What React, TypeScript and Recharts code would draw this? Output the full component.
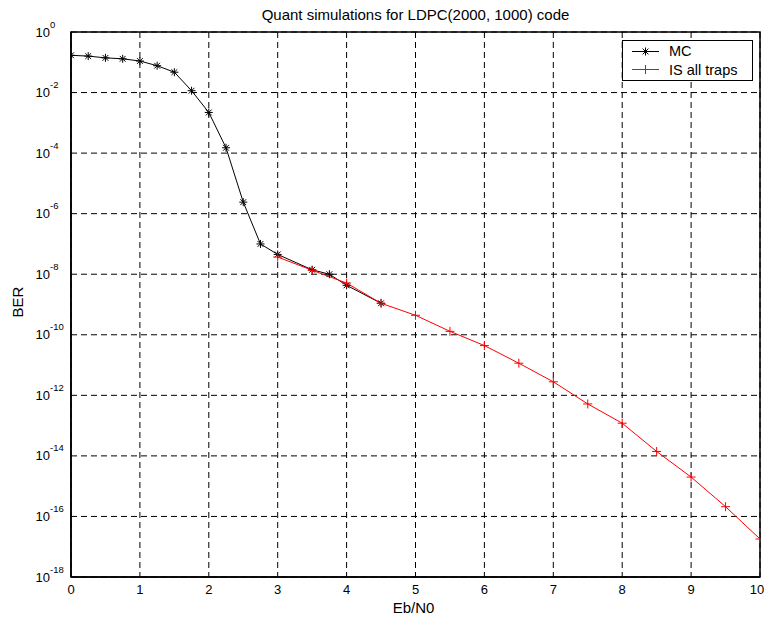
import React from 'react';
import { LineChart, Line, XAxis, YAxis, CartesianGrid, ReferenceArea } from 'recharts';

const mcEbN0 = [0, 0.25, 0.5, 0.75, 1, 1.25, 1.5, 1.75, 2, 2.25, 2.5, 2.75, 3, 3.5, 3.75, 4, 4.5];
const mcBer = [0.17, 0.16, 0.14, 0.13, 0.11, 0.077, 0.047, 0.0115, 2.2e-3, 1.5e-4, 2.4e-6, 1.0e-7, 4.5e-8, 1.4e-8, 1.0e-8, 4.3e-9, 1.1e-9];

const isEbN0 = [3, 3.5, 4, 4.5, 5, 5.5, 6, 6.5, 7, 7.5, 8, 8.5, 9, 9.5, 10];
const isBer = [3.7e-8, 1.35e-8, 5.1e-9, 1.1e-9, 4.4e-10, 1.3e-10, 4.4e-11, 1.15e-11, 2.8e-12, 5.2e-13, 1.2e-13, 1.4e-14, 2.0e-15, 2.1e-16, 1.8e-17];

const xTicks = [0, 1, 2, 3, 4, 5, 6, 7, 8, 9, 10];
const yTicks = [1, 1e-2, 1e-4, 1e-6, 1e-8, 1e-10, 1e-12, 1e-14, 1e-16, 1e-18];

const mcData = mcEbN0.map((x, i) => ({ x, ber: mcBer[i] }));
const isData = isEbN0.map((x, i) => ({ x, ber: isBer[i] }));

const FONT = 'Liberation Sans, Arial, sans-serif';
const RED = '#ff0000';

const StarDot = (props: any) => {
    const { cx, cy } = props;
    if (cx == null || cy == null) return null;
    const r = 4;
    const d = 2.9;
    return (
        <g stroke="#000" strokeWidth={1}>
            <line x1={cx - r} y1={cy} x2={cx + r} y2={cy} />
            <line x1={cx} y1={cy - r} x2={cx} y2={cy + r} />
            <line x1={cx - d} y1={cy - d} x2={cx + d} y2={cy + d} />
            <line x1={cx - d} y1={cy + d} x2={cx + d} y2={cy - d} />
        </g>
    );
};

const PlusDot = (props: any) => {
    const { cx, cy } = props;
    if (cx == null || cy == null) return null;
    const r = 4.5;
    return (
        <g stroke={RED} strokeWidth={1}>
            <line x1={cx - r} y1={cy} x2={cx + r} y2={cy} />
            <line x1={cx} y1={cy - r} x2={cx} y2={cy + r} />
        </g>
    );
};

const XTick = ({ x, y, payload }: any) => (
    <text x={x} y={y + 9} textAnchor="middle" fontSize={13} fontFamily={FONT} fill="#000">
        {payload.value}
    </text>
);

const YTick = ({ y, payload }: any) => {
    const exp = Math.round(Math.log10(payload.value));
    return (
        <text x={35.5} y={y + 4.5} fontSize={13} fontFamily={FONT} fill="#000">
            10
            <tspan dy={-9} fontSize={9.5}>{exp}</tspan>
        </text>
    );
};

const LegendBox = () => (
    <svg width={132} height={42}>
        <rect x={0.5} y={0.5} width={130} height={40} fill="#fff" stroke="#000" />
        <line x1={10} y1={11.5} x2={37} y2={11.5} stroke="#000" />
        <StarDot cx={23.5} cy={11.5} />
        <text x={47} y={16} fontSize={14.5} fontFamily={FONT}>MC</text>
        <line x1={10} y1={29.5} x2={37} y2={29.5} stroke={RED} />
        <PlusDot cx={23.5} cy={29.5} />
        <text x={47} y={34.5} fontSize={14.5} fontFamily={FONT}>IS all traps</text>
    </svg>
);

export default function App() {
    return (
        <div style={{ position: 'absolute', left: 0, top: 0, width: 765, height: 618, background: '#fff' }}>
            <LineChart width={765} height={618} margin={{ top: 32, right: 5, bottom: 11, left: 11 }} style={{ position: 'absolute', left: 0, top: 0 }}>
                <CartesianGrid stroke="#000" strokeDasharray="6 4" strokeWidth={1} horizontalValues={yTicks} verticalValues={xTicks} />
                <XAxis
                    type="number"
                    dataKey="x"
                    domain={[0, 10]}
                    ticks={xTicks}
                    height={30}
                    tick={<XTick />}
                    tickLine={false}
                    axisLine={{ stroke: '#000', strokeWidth: 1.5 }}
                    allowDataOverflow
                />
                <YAxis
                    type="number"
                    scale="log"
                    domain={[1e-18, 1]}
                    ticks={yTicks}
                    width={60}
                    tick={<YTick />}
                    tickLine={false}
                    axisLine={{ stroke: '#000', strokeWidth: 1.5 }}
                    allowDataOverflow
                />
                <ReferenceArea x1={0} x2={10} y1={1e-18} y2={1} fill="none" stroke="#000" strokeWidth={1.5} ifOverflow="visible" />
                <Line data={mcData} dataKey="ber" stroke="#000" strokeWidth={1} dot={<StarDot />} isAnimationActive={false} />
                <Line data={isData} dataKey="ber" stroke={RED} strokeWidth={1} dot={<PlusDot />} isAnimationActive={false} />
            </LineChart>
            <svg width={765} height={618} style={{ position: 'absolute', left: 0, top: 0, pointerEvents: 'none' }}>
                <text x={415.5} y={20} textAnchor="middle" fontSize={15} fontFamily={FONT}>Quant simulations for LDPC(2000, 1000) code</text>
                <text x={413.5} y={613} textAnchor="middle" fontSize={15} fontFamily={FONT}>Eb/N0</text>
                <text x={23} y={302} textAnchor="middle" fontSize={15} fontFamily={FONT} transform="rotate(-90 23 302)">BER</text>
            </svg>
            <div style={{ position: 'absolute', left: 622, top: 40, width: 132, height: 42 }}>
                <LegendBox />
            </div>
        </div>
    );
}
